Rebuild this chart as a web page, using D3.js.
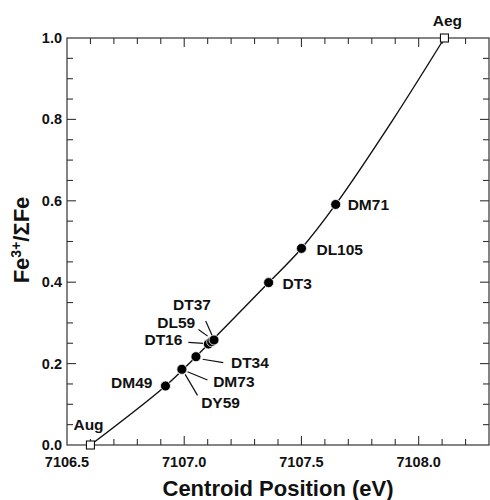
<!DOCTYPE html>
<html><head><meta charset="utf-8">
<script src="https://cdn.jsdelivr.net/npm/d3@7"></script>
<style>body{margin:0;background:#fff}text{font-family:"Liberation Sans",Arial,sans-serif;font-weight:bold;fill:#111}</style>
</head><body><svg id="c" width="490" height="500"></svg>
<script>
// Data
const sampleNames = ["DM71","DL105","DT3","DT37","DL59","DT16","DT34","DM73","DY59","DM49"];
const sampleX = [7107.646,7107.50,7107.36,7107.127,7107.117,7107.103,7107.05,7106.99,7106.99,7106.92];
const sampleY = [0.591,0.483,0.399,0.258,0.254,0.248,0.217,0.186,0.185,0.145];
const standardNames = ["Aug","Aeg"];
const standardX = [7106.60,7108.11];
const standardY = [0.0,1.0];
const curveX = [7106.60,7106.92,7107.05,7107.36,7107.50,7107.646,7107.89,7108.11];
const curveY = [0.000,0.145,0.217,0.399,0.483,0.591,0.799,1.000];
const xTickLabels = ["7106.5","7107.0","7107.5","7108.0"];
const yTickLabels = ["0.0","0.2","0.4","0.6","0.8","1.0"];

// Layout (label offsets in px relative to the marker)
const labelLayout = {
  DM71:{dx:12,dy:6,anchor:"start"},
  DL105:{dx:15,dy:7,anchor:"start"},
  DT3:{dx:14,dy:6,anchor:"start"},
  DT37:{dx:-3,dy:-30,anchor:"end",leader:[-8.3,-19,-1.3,-3.3]},
  DL59:{dx:-16.5,dy:-13.5,anchor:"end",leader:[-13.2,-12.2,-4,-5.5]},
  DT16:{dx:-26,dy:1,anchor:"end",leader:[-20,-1.7,-5,-0.7]},
  DT34:{dx:35,dy:11.3,anchor:"start",leader:[6.7,2.6,27.3,6]},
  DM73:{dx:31.3,dy:17.7,anchor:"start",leader:[5.6,2.4,25.6,10.7]},
  DY59:{dx:19.3,dy:38.7,anchor:"start",leader:[3.3,4.7,15.6,25.7]},
  DM49:{dx:-13,dy:2,anchor:"end"},
  Aug:{dx:-17,dy:-15,anchor:"start"},
  Aeg:{dx:3,dy:-12,anchor:"middle"}
};

const L=67,R=489,T=38,B=445;
const svg=d3.select("#c");
const x=d3.scaleLinear().domain([7106.5,7108.3]).range([L,R]);
const y=d3.scaleLinear().domain([0,1]).range([B,T]);

// frame
svg.append("rect").attr("x",L).attr("y",T).attr("width",R-L).attr("height",B-T)
  .attr("fill","none").attr("stroke","#333").attr("stroke-width",1.2);

// ticks
const xMajor=xTickLabels.map(Number);
const xMinor=d3.range(7106.5,7108.3001,0.1).map(v=>+v.toFixed(1));
const yMajor=yTickLabels.map(Number);
const yMinor=d3.range(0,1.0001,0.05).map(v=>+v.toFixed(2));
const isMaj=(arr,v)=>arr.some(m=>Math.abs(m-v)<1e-6);
const tg=svg.append("g").attr("stroke","#333").attr("stroke-width",1.1);
xMinor.forEach(v=>{
  if(v<=7106.5+1e-6||v>=7108.3-1e-6) return;
  const len=isMaj(xMajor,v)?9:6;
  tg.append("line").attr("x1",x(v)).attr("x2",x(v)).attr("y1",B).attr("y2",B-len);
  tg.append("line").attr("x1",x(v)).attr("x2",x(v)).attr("y1",T).attr("y2",T+len);
});
yMinor.forEach(v=>{
  if(v<=1e-6||v>=1-1e-6) return;
  const len=isMaj(yMajor,v)?9:6;
  tg.append("line").attr("y1",y(v)).attr("y2",y(v)).attr("x1",L).attr("x2",L+len);
  tg.append("line").attr("y1",y(v)).attr("y2",y(v)).attr("x1",R).attr("x2",R-len);
});

// tick labels
xTickLabels.forEach(t=>{
  svg.append("text").attr("x",x(+t)).attr("y",467).attr("text-anchor","middle")
    .attr("font-size",14.5).text(t);
});
yTickLabels.forEach(t=>{
  svg.append("text").attr("x",62).attr("y",y(+t)+5).attr("text-anchor","end")
    .attr("font-size",14.5).text(t);
});

// axis titles
svg.append("text").attr("x",278).attr("y",496).attr("text-anchor","middle")
  .attr("font-size",22).text("Centroid Position (eV)");
const yl=svg.append("text").attr("transform","translate(29,240) rotate(-90)")
  .attr("text-anchor","middle").attr("font-size",22);
yl.append("tspan").text("Fe");
yl.append("tspan").attr("font-size",14).attr("dy",-8).text("3+");
yl.append("tspan").attr("dy",8).text("/\u03A3Fe");

// curve
const curvePts=curveX.map((v,i)=>[x(v),y(curveY[i])]);
svg.append("path").attr("d",d3.line().curve(d3.curveCatmullRom.alpha(0.5))(curvePts))
  .attr("fill","none").attr("stroke","#111").attr("stroke-width",1.4);

// leaders
sampleNames.forEach((n,i)=>{
  const px=x(sampleX[i]),py=y(sampleY[i]),lay=labelLayout[n];
  if(lay.leader){
    const l=lay.leader;
    svg.append("line").attr("x1",px+l[0]).attr("y1",py+l[1]).attr("x2",px+l[2]).attr("y2",py+l[3])
      .attr("stroke","#111").attr("stroke-width",1.2);
  }
});
// dots
sampleNames.slice().reverse().forEach(n=>{
  const i=sampleNames.indexOf(n);
  svg.append("circle").attr("cx",x(sampleX[i])).attr("cy",y(sampleY[i])).attr("r",5)
    .attr("fill","#000").attr("stroke","#fff").attr("stroke-width",0.8);
});
sampleNames.forEach((n,i)=>{
  const px=x(sampleX[i]),py=y(sampleY[i]),lay=labelLayout[n];
  svg.append("text").attr("x",px+lay.dx).attr("y",py+lay.dy).attr("text-anchor",lay.anchor)
    .attr("font-size",15.5).text(n);
});

// standards
standardNames.forEach((n,i)=>{
  const px=x(standardX[i]),py=y(standardY[i]),lay=labelLayout[n];
  svg.append("rect").attr("x",px-4).attr("y",py-4).attr("width",8).attr("height",8)
    .attr("fill","#fff").attr("stroke","#111").attr("stroke-width",1.1);
  svg.append("text").attr("x",px+lay.dx).attr("y",py+lay.dy).attr("text-anchor",lay.anchor)
    .attr("font-size",15.5).text(n);
});
</script></body></html>
